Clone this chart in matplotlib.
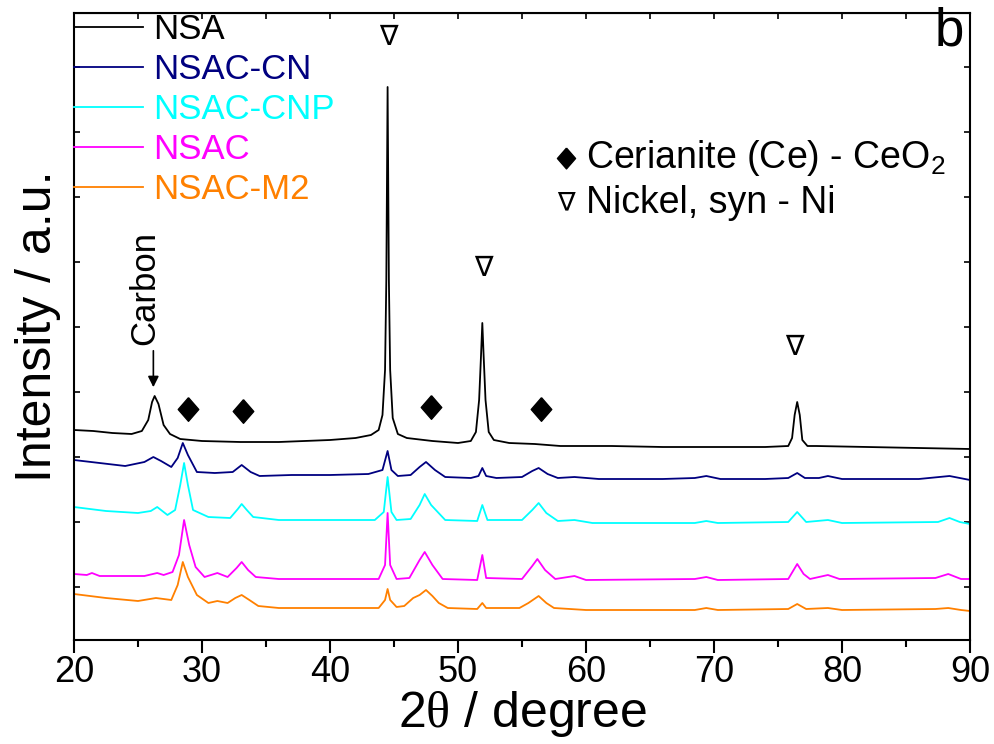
import numpy as np
import matplotlib
matplotlib.use("Agg")
import matplotlib.pyplot as plt

plt.rcParams['font.family'] = ['Liberation Sans', 'DejaVu Sans']
plt.rcParams['mathtext.fontset'] = 'custom'
plt.rcParams['mathtext.rm'] = 'Liberation Serif'
plt.rcParams['mathtext.sf'] = 'Liberation Sans'

# stacked XRD patterns, intensity already offset (a.u.)
nsa_x = [20.0, 21.5, 23.0, 24.5, 25.3, 25.8, 26.1, 26.3, 26.6, 27.0, 27.5, 28.3, 30.0, 33.0,
         36.0, 38.0, 40.0, 42.0, 43.2, 43.8, 44.1, 44.3, 44.4, 44.5, 44.6, 44.7, 44.9, 45.3,
         46.0, 48.0, 50.0, 51.0, 51.4, 51.65, 51.8, 51.9, 52.0, 52.15, 52.4, 52.8, 54.0, 56.0,
         58.0, 62.0, 66.0, 70.0, 74.0, 75.8, 76.1, 76.3, 76.5, 76.7, 76.9, 77.3, 78.0, 82.0,
         86.0, 90.0]
nsa_y = [210, 209, 207, 206, 209, 220, 238, 244, 236, 215, 206, 201, 199, 198,
         198, 199, 200, 202, 205, 210, 225, 270, 360, 553, 360, 270, 222, 206,
         202, 199, 197, 199, 208, 240, 285, 317, 285, 240, 208, 200, 197, 196,
         194, 194, 193, 193, 193, 194, 202, 225, 238, 225, 200, 194, 194, 193,
         192, 191]

cn_x = [20.0, 22.0, 24.0, 25.5, 26.2, 26.8, 27.6, 28.1, 28.5, 28.9, 29.6, 31.0, 32.4, 33.1,
        33.8, 34.5, 37.0, 40.0, 43.0, 44.1, 44.5, 44.8, 45.3, 46.3, 47.0, 47.5, 48.2, 49.0,
        51.0, 51.6, 51.9, 52.2, 53.0, 55.0, 55.8, 56.3, 57.0, 57.8, 59.1, 61.0, 66.0, 68.5,
        69.4, 70.5, 74.0, 75.8, 76.5, 77.1, 78.2, 78.9, 80.0, 86.0, 88.4, 89.2, 90.0]
cn_y = [180, 177, 174, 178, 183, 179, 173, 182, 197, 185, 168, 167, 168, 175,
        168, 164, 165, 165, 166, 170, 189, 170, 164, 165, 173, 178, 170, 163,
        162, 164, 172, 164, 162, 163, 169, 172, 166, 162, 163, 161, 161, 162,
        164, 161, 161, 162, 167, 162, 162, 164, 161, 161, 164, 162, 160]

cnp_x = [20.0, 22.5, 25.0, 26.0, 26.5, 27.3, 27.9, 28.3, 28.6, 28.9, 29.3, 30.5, 32.2, 32.8,
         33.1, 33.5, 34.0, 36.0, 40.0, 43.5, 44.2, 44.5, 44.8, 45.2, 46.3, 47.0, 47.4, 47.9,
         49.0, 51.5, 51.9, 52.3, 55.0, 55.8, 56.3, 56.9, 57.8, 59.1, 60.5, 68.5, 69.4, 70.3,
         75.8, 76.5, 77.2, 78.9, 80.0, 87.5, 88.4, 89.2, 90.0]
cnp_y = [133, 129, 127, 129, 133, 125, 130, 155, 177, 155, 130, 123, 122, 131,
         136, 130, 123, 120, 120, 120, 128, 163, 128, 120, 121, 135, 146, 135,
         120, 119, 135, 120, 120, 130, 137, 127, 119, 120, 117, 117, 119, 117,
         118, 128, 118, 120, 117, 118, 122, 118, 116]

nsac_x = [20.0, 21.0, 21.4, 22.0, 25.5, 26.5, 27.0, 27.7, 28.2, 28.6, 29.0, 29.5, 30.2, 31.2,
          32.0, 32.7, 33.1, 33.6, 34.2, 36.0, 43.8, 44.3, 44.5, 44.7, 45.2, 46.2, 47.0, 47.4,
          48.0, 48.8, 51.5, 51.9, 52.2, 55.0, 55.8, 56.2, 56.8, 57.6, 59.1, 60.0, 68.5, 69.4,
          70.3, 75.8, 76.5, 77.0, 77.5, 78.9, 79.8, 87.3, 88.3, 89.3, 90.0]
nsac_y = [66, 65, 67, 64, 64, 67, 65, 68, 85, 120, 95, 73, 63, 67,
          63, 72, 78, 70, 63, 61, 61, 75, 127, 75, 61, 62, 80, 88,
          75, 61, 60, 85, 62, 61, 74, 81, 70, 61, 64, 60, 61, 63,
          60, 61, 76, 66, 61, 65, 61, 62, 66, 61, 61]

m2_x = [20.0, 22.5, 25.0, 26.4, 27.6, 28.1, 28.5, 28.9, 29.6, 30.5, 31.2, 32.0, 32.6, 33.1,
        33.7, 34.4, 36.0, 43.8, 44.3, 44.5, 44.7, 45.2, 45.8, 46.5, 47.0, 47.5, 48.0, 48.5,
        49.2, 51.5, 51.9, 52.2, 54.8, 55.5, 56.3, 56.9, 57.5, 60.0, 68.5, 69.4, 70.3, 75.8,
        76.5, 77.2, 78.9, 80.0, 87.3, 88.3, 89.3, 90.0]
m2_y = [46, 42, 39, 42, 40, 55, 78, 63, 45, 37, 39, 37, 42, 45,
        40, 34, 32, 32, 40, 51, 40, 33, 34, 42, 45, 50, 44, 37,
        32, 31, 37, 32, 32, 37, 44, 37, 32, 30, 30, 32, 30, 31,
        36, 31, 32, 30, 31, 32, 30, 29]

names = ['NSA', 'NSAC-CN', 'NSAC-CNP', 'NSAC', 'NSAC-M2']
colors = ['black', '#000080', '#00FFFF', '#FF00FF', '#FF8000']
xs = [nsa_x, cn_x, cnp_x, nsac_x, m2_x]
ys = [nsa_y, cn_y, cnp_y, nsac_y, m2_y]

# reference phase positions and marker heights
ceo2_pos = [28.9, 33.2, 47.9, 56.5]
ceo2_h = [231, 229, 233, 231]
ni_pos = [44.6, 51.95, 76.3]
ni_h = [603, 372, 293]

diamond = [(0, 1.15), (1, 0), (0, -1.15), (-1, 0), (0, 1.15)]

fig = plt.figure(figsize=(9.94, 7.44), dpi=100)
ax = fig.add_axes([74 / 994, 104 / 744, 896 / 994, 627 / 744])

for x, y, c, n in zip(xs, ys, colors, names):
    ax.plot(x, y, color=c, lw=1.3, label=n)

ax.plot(ceo2_pos, ceo2_h, ls='none', marker=diamond, ms=17, color='black')
for p, h in zip(ni_pos, ni_h):
    ax.text(p, h, '\u2207', fontsize=20, ha='center', va='center',
            family=['DejaVu Sans'])

ax.annotate('', xy=(26.2, 250), xytext=(26.2, 292),
            arrowprops=dict(arrowstyle='-|>', color='black', lw=1.2, mutation_scale=16))
ax.text(25.5, 352, 'Carbon', rotation=90, fontsize=25, ha='center', va='center')

ax.plot([58.4], [482], marker=diamond, ms=15, color='black')
ax.text(60.0, 482, 'Cerianite (Ce) - CeO$_\\mathsf{2}$', fontsize=27, va='center')
ax.text(58.4, 437, '\u2207', fontsize=19, ha='center', va='center', family=['DejaVu Sans'])
ax.text(60.0, 437, 'Nickel, syn - Ni', fontsize=27, va='center')
ax.text(88.4, 609, 'b', fontsize=38, ha='center', va='center')

leg = ax.legend(loc='upper left', frameon=False, fontsize=25, handlelength=2.0,
                handletextpad=0.29, borderaxespad=0, borderpad=0,
                labelspacing=0.2, labelcolor='linecolor')

ax.set_xlim(20, 90)
ax.set_ylim(0, 627)
ax.set_xticks(np.arange(20, 91, 10))
ax.set_xticks(np.arange(25, 90, 10), minor=True)
ax.set_yticks(np.arange(53, 627, 65))
ax.set_yticklabels([])

for s in ax.spines.values():
    s.set_linewidth(1.5)
ax.tick_params(axis='x', which='major', direction='out', length=9.5, width=1.5,
               labelsize=26, pad=1, top=False)
ax.tick_params(axis='x', which='minor', direction='out', length=5, width=1.5, top=False)
ax.tick_params(axis='y', which='major', direction='in', length=4, width=1.2, right=True)

sec = ax.secondary_xaxis('top')
sec.set_xticks(np.arange(20, 91, 5))
sec.set_xticklabels([])
sec.tick_params(direction='in', length=4, width=1.2)

ax.set_xlabel('2$\\mathrm{\\theta}$ / degree', fontsize=36)
ax.xaxis.set_label_coords(0.5, -0.078)
ax.set_ylabel('Intensity / a.u.', fontsize=36)
ax.yaxis.set_label_coords(-0.0145, 0.5)

fig.savefig('out.png', dpi=100)
